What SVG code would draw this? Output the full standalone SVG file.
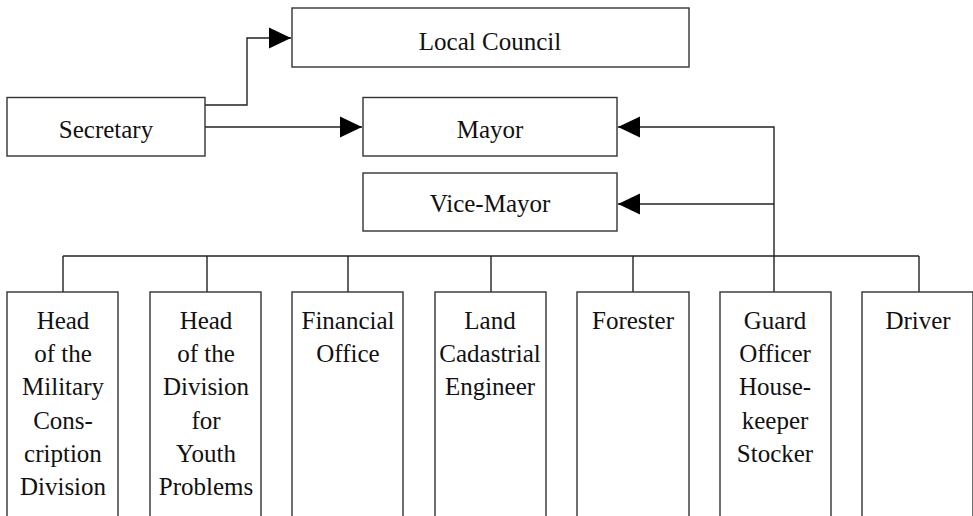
<svg xmlns="http://www.w3.org/2000/svg" width="973" height="516" viewBox="0 0 973 516">
<style>
.box{fill:#fff;stroke:#333;stroke-width:1.4}
.ln{fill:none;stroke:#222;stroke-width:1.4}
</style>
<defs>
<marker id="ah" markerUnits="userSpaceOnUse" markerWidth="22" markerHeight="22" refX="22" refY="11" orient="auto">
<path d="M0,0.5 L22,11 L0,21.5 Z" fill="#000"/>
</marker>
</defs>
<g id="connectors">
<path class="ln" d="M205,105 H247 V38 H291" marker-end="url(#ah)"/>
<path class="ln" d="M205,127 H362" marker-end="url(#ah)"/>
<path class="ln" d="M774,256 V127 H618" marker-end="url(#ah)"/>
<path class="ln" d="M774,204 H618" marker-end="url(#ah)"/>
<path class="ln" d="M63,256 H919"/>
<path class="ln" d="M63,256 V292 M207,256 V292 M348,256 V292 M491,256 V292 M633,256 V292 M774,256 V292 M919,256 V292"/>
</g>
<g font-family="'Liberation Serif', serif" font-size="25" fill="#111" text-anchor="middle">
<g id="local-council"><rect class="box" x="292" y="8" width="397" height="59"/><text x="490" y="50">Local Council</text></g>
<g id="secretary"><rect class="box" x="7" y="97.5" width="198" height="58.5"/><text x="106" y="138">Secretary</text></g>
<g id="mayor"><rect class="box" x="363" y="97.5" width="254" height="58.5"/><text x="490" y="138">Mayor</text></g>
<g id="vice-mayor"><rect class="box" x="363" y="173" width="254" height="58"/><text x="490" y="212">Vice-Mayor</text></g>
<g id="military"><rect class="box" x="7" y="292" width="111" height="240"/>
<text x="63" y="329">Head</text><text x="63" y="362">of the</text><text x="63" y="395">Military</text><text x="63" y="429">Cons-</text><text x="63" y="462">cription</text><text x="63" y="495">Division</text></g>
<g id="youth"><rect class="box" x="150" y="292" width="111" height="240"/>
<text x="206" y="329">Head</text><text x="206" y="362">of the</text><text x="206" y="395">Division</text><text x="206" y="429">for</text><text x="206" y="462">Youth</text><text x="206" y="495">Problems</text></g>
<g id="financial"><rect class="box" x="292" y="292" width="111" height="240"/>
<text x="348" y="329">Financial</text><text x="348" y="362">Office</text></g>
<g id="land"><rect class="box" x="435" y="292" width="111" height="240"/>
<text x="490" y="329">Land</text><text x="490" y="362">Cadastrial</text><text x="490" y="395">Engineer</text></g>
<g id="forester"><rect class="box" x="577" y="292" width="112" height="240"/>
<text x="633" y="329">Forester</text></g>
<g id="guard"><rect class="box" x="720" y="292" width="111" height="240"/>
<text x="775" y="329">Guard</text><text x="775" y="362">Officer</text><text x="775" y="395">House-</text><text x="775" y="429">keeper</text><text x="775" y="462">Stocker</text></g>
<g id="driver"><rect class="box" x="862" y="292" width="111" height="240"/>
<text x="918" y="329">Driver</text></g>
</g>
</svg>
